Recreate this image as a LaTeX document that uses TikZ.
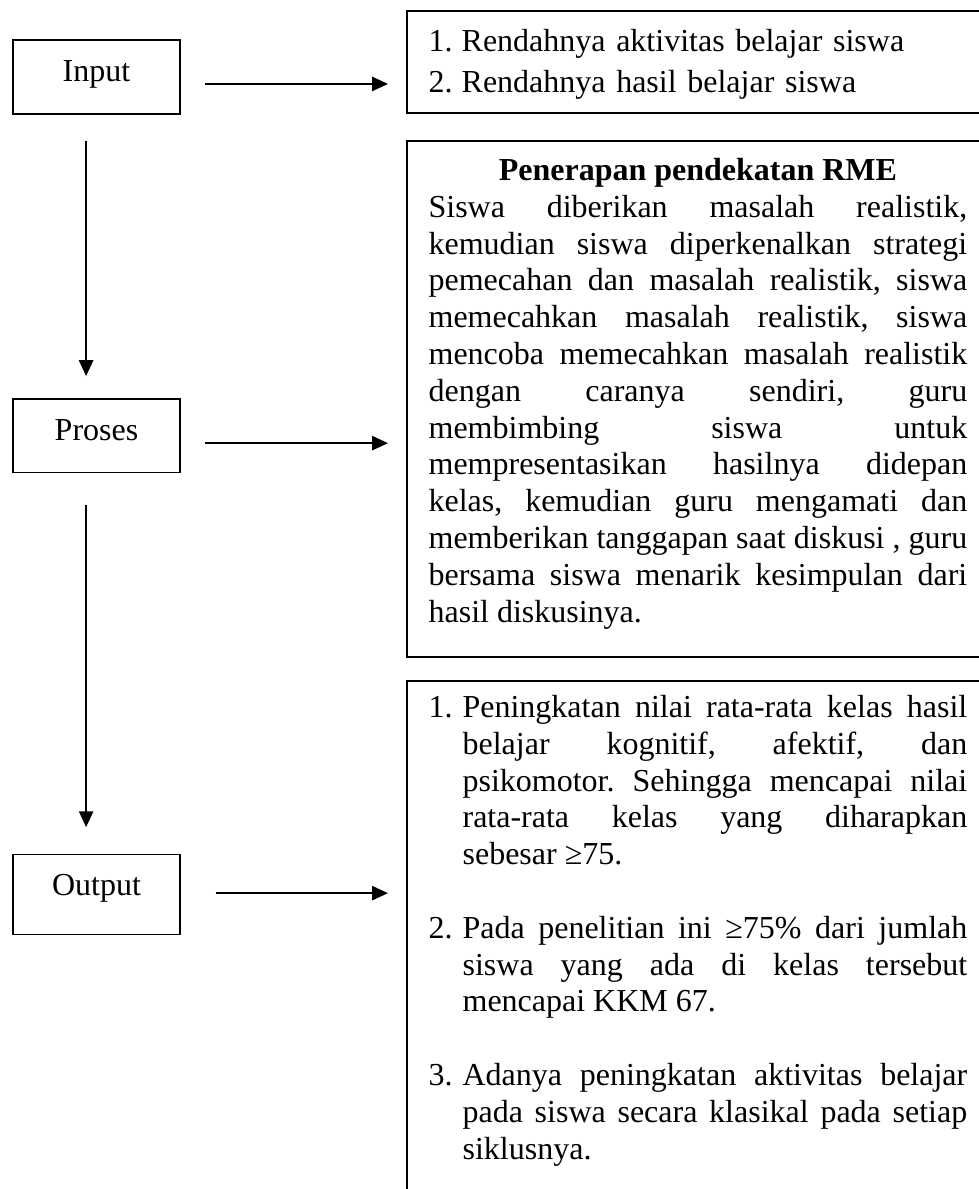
\documentclass[tikz,border=0pt]{standalone}
\usepackage{fontspec}
\setmainfont{Liberation Serif}
\usetikzlibrary{positioning,arrows.meta}
\setlength{\parindent}{0pt}
\frenchspacing
\tolerance=10000 \hbadness=10000 \hyphenpenalty=10000 \exhyphenpenalty=10000

\begin{document}
\begin{tikzpicture}[x=0.375pt,y=-0.375pt,>={Triangle[length=6pt,width=5.25pt]},
    stage/.style={draw,line width=0.5pt,inner sep=0pt,outer sep=0pt,minimum width=62.6pt,text height=15.6pt,font=\fontsize{12}{13.8}\selectfont},
    panel/.style={draw,line width=0.75pt,inner sep=0pt,outer sep=0pt,minimum width=222.4pt,anchor=north west},
    isi/.style={inner sep=0pt,anchor=north west,text width=202pt,align=justify,font=\fontsize{12}{13.8}\selectfont},
    flow/.style={->,line width=1pt}]
    \path[use as bounding box] (0,0) rectangle (979,1189);
    \clip (0,0) rectangle (979,1189);

    % kolom kiri
    \node[stage,text depth=12.2pt] (input) at (96.5,77) {Input};
    \node[stage,text depth=11.8pt] (proses) [below=106.9pt of input] {Proses};
    \node[stage,text depth=14.4pt] (output) [below=143.25pt of proses] {Output};

    % kotak kanan
    \node[panel,minimum height=38.25pt] (masalah) at (407,11) {};
    \node[panel,minimum height=193.5pt] (tindakan) [below=10.5pt of masalah.south west,anchor=north west] {};
    \node[panel,minimum height=225pt] (hasil) [below=9pt of tindakan.south west,anchor=north west] {};

    \node[isi,align=left,font=\fontsize{12}{15.4}\selectfont] (masalahteks) [below right=4.2pt and 7.9pt of masalah.north west] {%
        \strut\makebox[12.4pt][l]{1.}Rendahnya aktivitas belajar siswa\par
        \makebox[12.4pt][l]{2.}Rendahnya hasil belajar siswa\par};

    \node[isi] (tindakanteks) [below right=4.95pt and 7.9pt of tindakan.north west] {%
        \centerline{\strut\bfseries Penerapan pendekatan RME}
        Siswa diberikan masalah realistik,\linebreak
        kemudian siswa diperkenalkan strategi\linebreak
        pemecahan dan masalah realistik, siswa\linebreak
        memecahkan masalah realistik, siswa\linebreak
        mencoba memecahkan masalah realistik\linebreak
        dengan caranya sendiri, guru\linebreak
        membimbing siswa untuk\linebreak
        mempresentasikan hasilnya didepan\linebreak
        kelas, kemudian guru mengamati dan\linebreak
        memberikan tanggapan saat diskusi , guru\linebreak
        bersama siswa menarik kesimpulan dari\linebreak
        hasil diskusinya.\par};

    \node[isi] (hasilteks) [below right=3.8pt and 7.9pt of hasil.north west] {%
        \hangindent=12.75pt\hangafter=1\strut\makebox[12.75pt][l]{1.}Peningkatan nilai rata-rata kelas hasil\linebreak
        belajar kognitif, afektif, dan\linebreak
        psikomotor. Sehingga mencapai nilai\linebreak
        rata-rata kelas yang diharapkan\linebreak
        sebesar ≥75.\par\vskip13.8pt
        \hangindent=12.75pt\hangafter=1\makebox[12.75pt][l]{2.}Pada penelitian ini ≥75\% dari jumlah\linebreak
        siswa yang ada di kelas tersebut\linebreak
        mencapai KKM 67.\par\vskip13.8pt
        \hangindent=12.75pt\hangafter=1\makebox[12.75pt][l]{3.}Adanya peningkatan aktivitas belajar\linebreak
        pada siswa secara klasikal pada setiap\linebreak
        siklusnya.\par};

    % panah
    \draw[flow,shorten <=9.4pt,shorten >=7.1pt] ([yshift=-2.6pt]input.east) -- ([yshift=-2.6pt]input.east -| masalah.west);
    \draw[flow,shorten <=9.4pt,shorten >=7.1pt] ([yshift=-2.8pt]proses.east) -- ([yshift=-2.8pt]proses.east -| tindakan.west);
    \draw[flow,shorten <=13.5pt,shorten >=7.1pt] ([yshift=0.4pt]output.east) -- ([yshift=0.4pt]output.east -| hasil.west);
    \draw[flow,shorten <=10.1pt,shorten >=8.6pt] ([xshift=-3.9pt]input.south) -- ([xshift=-3.9pt]proses.north);
    \draw[flow,shorten <=12.4pt,shorten >=10.1pt] ([xshift=-3.9pt]proses.south) -- ([xshift=-3.9pt]output.north);
\end{tikzpicture}
\end{document}
